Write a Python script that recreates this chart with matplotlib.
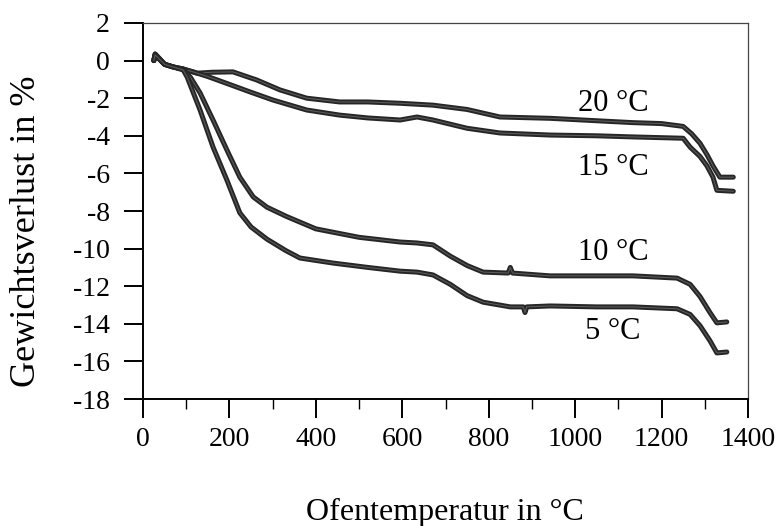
import matplotlib.pyplot as plt
from matplotlib.ticker import MultipleLocator

plt.rcParams['font.family'] = ['Liberation Serif', 'DejaVu Serif']
plt.rcParams['axes.unicode_minus'] = False

# Werte (Ofentemperatur in °C, Gewichtsverlust in %)
x_20 = [25, 28, 50, 70, 93, 125, 160, 208, 263, 317, 379, 455, 520, 595, 671, 750, 826,
        942, 1050, 1134, 1200, 1250, 1270, 1289, 1305, 1319, 1335, 1366]
y_20 = [0.0, 0.35, -0.2, -0.34, -0.45, -0.67, -0.62, -0.6, -1.03, -1.56, -2.0, -2.2,
        -2.2, -2.27, -2.37, -2.6, -3.0, -3.07, -3.2, -3.3, -3.35, -3.5, -3.9, -4.4,
        -5.0, -5.6, -6.2, -6.2]

x_15 = [25, 28, 50, 70, 93, 116, 150, 185, 248, 301, 379, 455, 520, 595, 634, 671, 750,
        826, 942, 1050, 1134, 1250, 1266, 1289, 1305, 1319, 1328, 1366]
y_15 = [0.0, 0.35, -0.2, -0.34, -0.45, -0.6, -0.85, -1.14, -1.67, -2.1, -2.63, -2.9,
        -3.05, -3.16, -3.0, -3.16, -3.6, -3.85, -3.96, -4.0, -4.06, -4.13, -4.6, -5.1,
        -5.6, -6.2, -6.9, -6.95]

x_10 = [25, 28, 50, 70, 93, 110, 132, 162, 194, 224, 255, 287, 333, 400, 500, 595, 634,
        671, 711, 750, 787, 845, 850, 855, 942, 1050, 1134, 1236, 1266, 1289, 1312, 1328,
        1351]
y_10 = [0.0, 0.3, -0.2, -0.34, -0.45, -0.9, -1.72, -3.16, -4.75, -6.2, -7.25, -7.8,
        -8.3, -8.95, -9.4, -9.65, -9.7, -9.8, -10.4, -10.9, -11.25, -11.3, -11.0, -11.3,
        -11.45, -11.45, -11.45, -11.57, -11.9, -12.55, -13.4, -13.95, -13.9]

x_5 = [25, 28, 50, 70, 93, 102, 132, 162, 194, 224, 250, 287, 330, 363, 440, 520, 595,
       634, 671, 711, 750, 787, 850, 880, 884, 888, 942, 1050, 1134, 1236, 1266, 1289,
       1312, 1328, 1351]
y_5 = [0.0, 0.3, -0.2, -0.34, -0.5, -0.87, -2.63, -4.6, -6.35, -8.1, -8.85, -9.5,
       -10.1, -10.5, -10.77, -11.0, -11.2, -11.25, -11.4, -11.9, -12.5, -12.85, -13.1,
       -13.1, -13.4, -13.1, -13.05, -13.1, -13.1, -13.2, -13.5, -14.1, -14.9, -15.55,
       -15.5]

series = [(x_20, y_20), (x_15, y_15), (x_10, y_10), (x_5, y_5)]

label_text = ['20 °C', '15 °C', '10 °C', '5 °C']
label_x = [1088, 1088, 1088, 1088]
label_y = [-2.26, -5.66, -10.2, -14.4]

fig = plt.figure(figsize=(7.82, 5.26), dpi=100)
ax = fig.add_axes([0.1829, 0.2414, 0.7736, 0.7149])

for xs, ys in series:
    ax.plot(xs, ys, color='#262626', lw=3.6, solid_capstyle='round', solid_joinstyle='round')
    ax.plot(xs, ys, color='#5a5a5a', lw=0.8, solid_joinstyle='round')

for t, lx, ly in zip(label_text, label_x, label_y):
    ax.text(lx, ly, t, fontsize=22, ha='center', va='center')

ax.set_xlim(0, 1400)
ax.set_ylim(-18, 2)
ax.xaxis.set_major_locator(MultipleLocator(200))
ax.xaxis.set_minor_locator(MultipleLocator(100))
ax.yaxis.set_major_locator(MultipleLocator(2))

ax.tick_params(axis='both', which='major', direction='out', length=14, width=1.4,
               labelsize=20, colors='black')
ax.tick_params(axis='x', which='major', pad=6)
ax.tick_params(axis='y', which='major', pad=10)
ax.tick_params(axis='x', which='minor', direction='out', length=7, width=1.0)

for side in ['left', 'bottom']:
    ax.spines[side].set_linewidth(1.4)
for side in ['top', 'right']:
    ax.spines[side].set_linewidth(0.9)
    ax.spines[side].set_color('#444444')

ax.set_xlabel('Ofentemperatur in °C', fontsize=23)
ax.set_ylabel('Gewichtsverlust in %', fontsize=26)
ax.xaxis.set_label_coords(0.499, -0.263)
ax.yaxis.set_label_coords(-0.165, 0.447)

fig.savefig('out.png', dpi=100)
